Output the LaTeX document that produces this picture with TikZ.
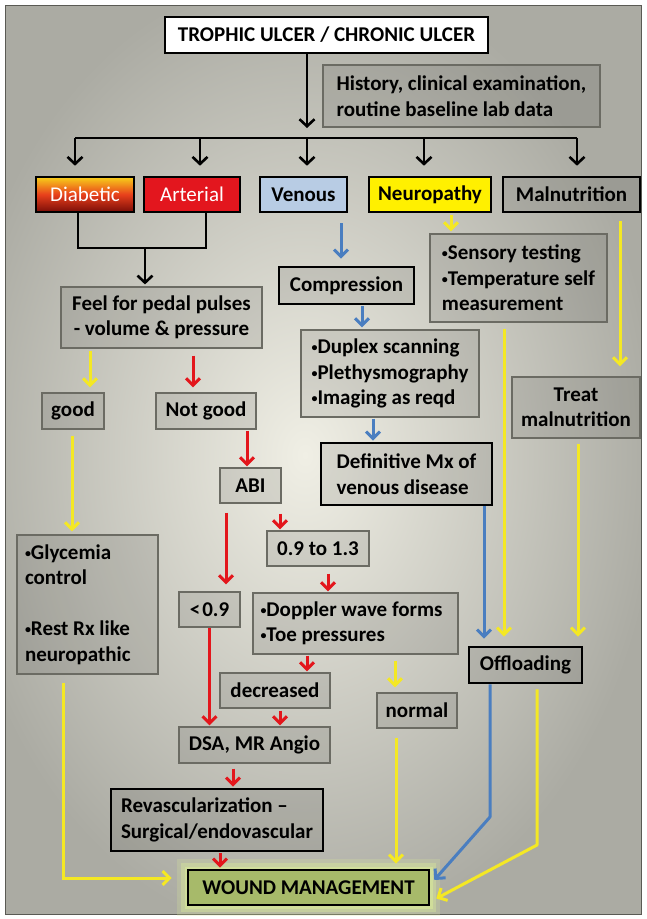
\documentclass[tikz,border=0pt]{standalone}
\usepackage{fontspec}
\setmainfont{Carlito}
\usetikzlibrary{arrows.meta}

\definecolor{bgin}{HTML}{F0EFE5}
\definecolor{bgout}{HTML}{ABABA3}
\definecolor{frame}{HTML}{5A5A54}
\definecolor{thinb}{HTML}{6B6B63}
\definecolor{ayel}{HTML}{F4E824}
\definecolor{ared}{HTML}{E3161C}
\definecolor{ablue}{HTML}{4A7EC0}
\definecolor{artred}{HTML}{E3161E}
\definecolor{venblue}{HTML}{B8CCE4}
\definecolor{neuryel}{HTML}{FFF000}
\definecolor{woundg}{HTML}{A7BA6A}
\definecolor{glowg}{HTML}{D6E59A}
\definecolor{diabtop}{HTML}{F8CF1A}
\definecolor{diabmid}{HTML}{E8401C}
\definecolor{diabbot}{HTML}{7A0D08}

\newcommand\mybul{{\fontsize{12}{12}\selectfont\raisebox{2pt}{•}}}

\begin{document}
\begin{tikzpicture}[x=1pt,y=-1pt,
  every node/.style={font=\fontsize{21}{25.5}\selectfont\bfseries, inner sep=0pt, text=black},
  thinbox/.style={rectangle, draw=thinb, line width=1.2pt, fill=black, fill opacity=0.09, draw opacity=1, text opacity=1},
  thickbox/.style={rectangle, draw=black, line width=2.6pt, fill=black, fill opacity=0.09, draw opacity=1, text opacity=1},
  catbox/.style={rectangle, draw=black, line width=2.6pt, minimum height=35pt},
  K/.style={draw=black, line width=2.6pt, -{Straight Barb[length=7pt,width=15pt]}},
  KL/.style={draw=black, line width=2.6pt},
  R/.style={draw=ared, line width=3pt, -{Straight Barb[length=7pt,width=14pt]}},
  Y/.style={draw=ayel, line width=3pt, -{Straight Barb[length=7pt,width=14pt]}},
  B/.style={draw=ablue, line width=3pt, -{Straight Barb[length=7pt,width=14pt]}},
  lbl/.style={align=left},
]
\useasboundingbox (0,0) rectangle (646,919);
\fill[white] (0,0) rectangle (646,919);
\begin{scope}
  \clip (5,5) rectangle (641,914);
  \shade[inner color=bgin, outer color=bgout] (-50,-30) rectangle (660,940);
\end{scope}
\draw[frame, line width=1pt] (5,5) rectangle (641,914);

% ---------- nodes ----------
\node[thickbox, fill=white, fill opacity=1, minimum width=323pt, minimum height=36pt] (title) at (326.5,35) {TROPHIC ULCER / CHRONIC ULCER};
\node[thinbox, lbl, minimum width=277pt, minimum height=62pt] (hist) at (461.5,96) {History, clinical examination,\\routine baseline lab data};

\node[catbox, top color=diabtop, bottom color=diabbot, middle color=diabmid, minimum width=98pt, text=white, font=\fontsize{21}{25}\selectfont\mdseries] (diab) at (85,194.5) {Diabetic};
\node[catbox, fill=artred, minimum width=96pt, text=white, font=\fontsize{21}{25}\selectfont\mdseries] (art) at (192,194.5) {Arterial};
\node[catbox, fill=venblue, minimum width=87pt] (ven) at (303.5,194.5) {Venous};
\node[catbox, fill=neuryel, minimum width=122pt] (neur) at (430,194.5) {Neuropathy};
\node[thickbox, minimum width=137pt, minimum height=35pt] (maln) at (571.5,194.5) {Malnutrition};

\node[thinbox, align=center, minimum width=201pt, minimum height=61pt] (feel) at (161.5,317.5) {Feel for pedal pulses\\- volume \& pressure};
\node[thickbox, minimum width=135pt, minimum height=37pt] (comp) at (346.5,285.5) {Compression};
\node[thinbox, lbl, minimum width=177pt, minimum height=88pt] (sens) at (518.5,278) {\mybul Sensory testing\\\mybul Temperature self\\measurement};
\node[thinbox, lbl, minimum width=178pt, minimum height=87pt] (dup) at (390,373.5) {\mybul Duplex scanning\\\mybul Plethysmography\\\mybul Imaging as reqd};
\node[thinbox, minimum width=62pt, minimum height=36pt] (good) at (73,411) {good};
\node[thinbox, minimum width=100pt, minimum height=36pt] (notgood) at (206,411) {Not good};
\node[thinbox, align=center, minimum width=128pt, minimum height=61pt] (treat) at (576,407.5) {Treat\\malnutrition};
\node[thickbox, lbl, minimum width=171pt, minimum height=62pt] (defn) at (406.5,474) {Definitive Mx of\\venous disease};
\node[thinbox, minimum width=61pt, minimum height=35pt] (abi) at (250.5,485.5) {ABI};
\node[thinbox, align=flush left, text width=125pt, minimum width=141pt, minimum height=139pt] (glyc) at (87.5,604.5) {\mybul Glycemia\\control\\[25.5pt]\mybul Rest Rx like\\neuropathic};
\node[thinbox, minimum width=102pt, minimum height=35pt] (r0913) at (318,548.5) {0.9 to 1.3};
\node[thinbox, minimum width=61pt, minimum height=35pt] (lt09) at (209.5,609.5) {<\kern2pt0.9};
\node[thinbox, align=flush left, text width=190pt, minimum width=205pt, minimum height=61pt] (dopp) at (355.5,623.5) {\mybul Doppler wave forms\\\mybul Toe pressures};
\node[thickbox, minimum width=113pt, minimum height=36pt] (offl) at (525.5,665) {Offloading};
\node[thinbox, minimum width=110pt, minimum height=35pt] (decr) at (275,690.5) {decreased};
\node[thinbox, minimum width=80pt, minimum height=35pt] (normal) at (417,710.5) {normal};
\node[thinbox, minimum width=151pt, minimum height=36pt] (dsa) at (254.5,745) {DSA, MR Angio};
\node[thickbox, lbl, minimum width=212pt, minimum height=62pt] (revasc) at (217,820) {Revascularization –\\Surgical/endovascular};
\node[thickbox, fill=woundg, fill opacity=1, minimum width=241pt, minimum height=35pt,
  preaction={draw=glowg, line width=22pt, draw opacity=0.25, fill opacity=0},
  preaction={draw=glowg, line width=14pt, draw opacity=0.45, fill opacity=0},
  preaction={draw=glowg, line width=7pt, draw opacity=0.7, fill opacity=0}] (wound) at (308.5,887.5) {WOUND MANAGEMENT};

% ---------- connector corners ----------
\coordinate (barL) at (75,138);
\coordinate (barR) at (577,138);
\coordinate (bm) at (145,248);
\coordinate (bc) at (490,817);
\coordinate (yc) at (537,845);

% ---------- black ----------
\draw[K, shorten >=10pt] ([xshift=-19.5pt]title.south) -- ([xshift=-19.5pt]title.south |- barL);
\draw[KL] (barL) -- (barR);
\draw[K, shorten >=10pt] ([xshift=-10pt]diab.north |- barL) -- ([xshift=-10pt]diab.north);
\draw[K, shorten >=10pt] ([xshift=8pt]art.north |- barL) -- ([xshift=8pt]art.north);
\draw[K, shorten >=10pt] ([xshift=3.5pt]ven.north |- barL) -- ([xshift=3.5pt]ven.north);
\draw[K, shorten >=10pt] ([xshift=-6pt]neur.north |- barL) -- ([xshift=-6pt]neur.north);
\draw[K, shorten >=10pt] ([xshift=5.5pt]maln.north |- barL) -- ([xshift=5.5pt]maln.north);
\draw[KL, line join=miter] ([xshift=-7pt]diab.south) |- (bm) -| ([xshift=14pt]art.south);
\draw[K, shorten >=2pt] (bm) -- (bm |- feel.north);

% ---------- red ----------
\draw[R, shorten <=7pt, shorten >=5pt] ([xshift=-13pt]notgood.north |- feel.south) -- ([xshift=-13pt]notgood.north);
\draw[R, shorten <=1pt, shorten >=1pt] ([xshift=-3.5pt]abi.north |- notgood.south) -- ([xshift=-3.5pt]abi.north);
\draw[R, shorten <=9pt, shorten >=7pt] ([xshift=16.5pt]lt09.north |- abi.south) -- ([xshift=16.5pt]lt09.north);
\draw[R, shorten <=10pt, shorten >=1pt] ([xshift=-38pt]r0913.north |- abi.south) -- ([xshift=-38pt]r0913.north);
\draw[R, shorten <=7pt, shorten >=1pt] ([xshift=-27.5pt]dopp.north |- r0913.south) -- ([xshift=-27.5pt]dopp.north);
\draw[R, shorten <=1pt, shorten >=1pt] ([xshift=32pt]decr.north |- dopp.south) -- ([xshift=32pt]decr.north);
\draw[R, shorten >=1pt] (lt09.south) -- (lt09.south |- dsa.north);
\draw[R, shorten <=2pt, shorten >=1pt] ([xshift=5pt]decr.south) -- ([xshift=5pt]decr.south |- dsa.north);
\draw[R, shorten <=5pt, shorten >=1pt] ([xshift=16pt]revasc.north |- dsa.south) -- ([xshift=16pt]revasc.north);
\draw[R, shorten <=1pt, shorten >=1pt] ([xshift=3pt]revasc.south) -- ([xshift=3pt]revasc.south |- wound.north);

% ---------- yellow ----------
\draw[Y, shorten <=2pt, shorten >=5pt] ([xshift=17pt]good.north |- feel.south) -- ([xshift=17pt]good.north);
\draw[Y, shorten <=6pt, shorten >=3pt] ([xshift=-1pt]good.south) -- ([xshift=-1pt]good.south |- glyc.north);
\draw[Y, shorten <=8pt, shorten >=15pt] ([xshift=-24.5pt]glyc.south) |- ([yshift=9.5pt]wound.west);
\draw[Y, shorten <=2pt, shorten >=2pt] ([xshift=21pt]neur.south) -- ([xshift=21pt]neur.south |- sens.north);
\draw[Y, shorten <=6pt, shorten >=9pt] ([xshift=-21.5pt]offl.north |- sens.south) -- ([xshift=-21.5pt]offl.north);
\draw[Y, shorten <=8pt, shorten >=10pt] ([xshift=44pt]treat.north |- maln.south) -- ([xshift=44pt]treat.north);
\draw[Y, shorten <=5pt, shorten >=9pt] ([xshift=52.5pt]offl.north |- treat.south) -- ([xshift=52.5pt]offl.north);
\draw[Y, shorten <=6pt, shorten >=5pt] ([xshift=-22pt]normal.north |- dopp.south) -- ([xshift=-22pt]normal.north);
\draw[Y, shorten <=9pt, shorten >=5pt] ([xshift=-21pt]normal.south) -- ([xshift=-21pt]normal.south |- wound.north);
\draw[Y, shorten <=5pt, line join=round] (yc |- offl.south) -- (yc) -- ([xshift=6pt, yshift=-11pt]wound.east);

% ---------- blue ----------
\draw[B, shorten <=10pt, shorten >=7pt] ([xshift=37.5pt]ven.south) -- ([xshift=37.5pt]ven.south |- comp.north);
\draw[B, shorten <=1pt, shorten >=2pt] ([xshift=-28pt]dup.north |- comp.south) -- ([xshift=-28pt]dup.north);
\draw[B, shorten <=1pt, shorten >=1pt] ([xshift=-33.5pt]defn.north |- dup.south) -- ([xshift=-33.5pt]defn.north);
\draw[B, shorten >=7pt] ([xshift=-41.5pt]offl.north |- defn.south) -- ([xshift=-41.5pt]offl.north);
\draw[B, line join=round] (bc |- offl.south) -- (bc) -- ([xshift=4pt, yshift=7.5pt]wound.east);
\end{tikzpicture}
\end{document}
